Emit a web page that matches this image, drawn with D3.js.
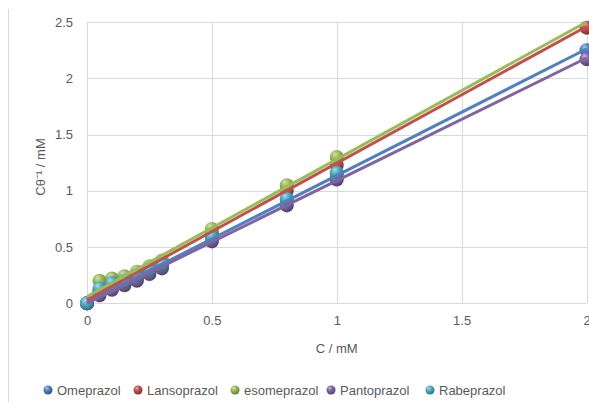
<!DOCTYPE html>
<html><head><meta charset="utf-8">
<script src="https://cdn.jsdelivr.net/npm/d3@7"></script>
<style>body{margin:0;background:#fff;overflow:hidden}svg{display:block}text{font-family:"Liberation Sans",Arial,sans-serif;fill:#595959}</style>
</head><body><svg id="c" width="589" height="402"></svg>
<script>
const seriesNames = ["Omeprazol","Lansoprazol","esomeprazol","Pantoprazol","Rabeprazol"];
const seriesColors = ["#4F81BD","#C0504D","#9BBB59","#8064A2","#4BACC6"];
const xValues = [0,0.05,0.1,0.15,0.2,0.25,0.3,0.5,0.8,1,2];
const omeprazol   = [0,0.10,0.15,0.18,0.23,0.28,0.33,0.58,0.92,1.15,2.25];
const lansoprazol = [0,0.11,0.16,0.20,0.25,0.30,0.36,0.62,1.00,1.23,2.45];
const esomeprazol = [0,0.20,0.22,0.24,0.28,0.33,0.38,0.66,1.05,1.30];
const pantoprazol = [0,0.07,0.12,0.16,0.20,0.26,0.31,0.55,0.87,1.10,2.17];
const rabeprazol  = [0,0.13,0.18,0.20,0.25,0.30,0.35,0.59,0.93,1.16];
const trendSlope     = [1.125,1.215,1.22,1.09];
const trendIntercept = [0.01,0.03,0.06,0.0];
const xTicks = [0,0.5,1,1.5,2];
const yTicks = [0,0.5,1,1.5,2,2.5];

const allValues = [omeprazol,lansoprazol,esomeprazol,pantoprazol,rabeprazol];
const svg = d3.select("#c");
const x = d3.scaleLinear().domain([0,2]).range([87,586.5]);
const y = d3.scaleLinear().domain([0,2.5]).range([303.3,22]);

// outer chart border (left edge visible)
svg.append("line").attr("x1",8.5).attr("x2",8.5).attr("y1",9).attr("y2",402).attr("stroke","#d9d9d9");

// gridlines
svg.append("g").selectAll("line").data(yTicks).join("line")
  .attr("x1",x(0)).attr("x2",x(2)).attr("y1",d=>Math.round(y(d))+0.5).attr("y2",d=>Math.round(y(d))+0.5)
  .attr("stroke","#d9d9d9");
svg.append("g").selectAll("line").data(xTicks).join("line")
  .attr("y1",y(0)).attr("y2",y(2.5)).attr("x1",d=>Math.round(x(d))+0.5).attr("x2",d=>Math.round(x(d))+0.5)
  .attr("stroke","#d9d9d9");

// axes (labels only)
const yAxis = d3.axisLeft(y).tickValues(yTicks).tickSize(0).tickPadding(0).tickFormat(d3.format("~g"));
const ga = svg.append("g").attr("transform","translate(73,0)").call(yAxis);
ga.select(".domain").remove();
ga.selectAll("text").attr("font-size",13).attr("fill","#595959").style("font-family","Liberation Sans, Arial");
const xAxis = d3.axisBottom(x).tickValues(xTicks).tickSize(0).tickPadding(0).tickFormat(d3.format("~g"));
const gx = svg.append("g").attr("transform","translate(0,316)").call(xAxis);
gx.select(".domain").remove();
gx.selectAll("text").attr("font-size",13).attr("fill","#595959").style("font-family","Liberation Sans, Arial");

// titles
svg.append("text").attr("x",x(1)).attr("y",353).attr("text-anchor","middle").attr("font-size",13).text("C / mM");
svg.append("text").attr("transform","translate(45,167) rotate(-90)").attr("text-anchor","middle").attr("font-size",13).text("Cθ⁻¹ / mM");

// gradients
const defs = svg.append("defs");
seriesColors.forEach((c,i)=>{
  const g = defs.append("radialGradient").attr("id","g"+i).attr("cx","40%").attr("cy","35%").attr("r","65%").attr("fx","35%").attr("fy","28%");
  g.append("stop").attr("offset","0%").attr("stop-color",d3.interpolateRgb(c,"#fff")(0.55));
  g.append("stop").attr("offset","45%").attr("stop-color",c);
  g.append("stop").attr("offset","100%").attr("stop-color",d3.color(c).darker(1.2));
});

// markers
allValues.forEach((vals,i)=>{
  svg.append("g").selectAll("circle").data(vals).join("circle")
    .attr("cx",(d,j)=>x(xValues[j])).attr("cy",d=>y(d)).attr("r",7)
    .attr("fill","url(#g"+i+")");
});

// trendlines
trendSlope.forEach((s,i)=>{
  const line = d3.line().x(d=>x(d)).y(d=>y(trendIntercept[i]+s*d));
  svg.append("path").datum([0,2]).attr("d",line).attr("stroke",seriesColors[i]).attr("stroke-width",3).attr("fill","none");
});

// legend
const legX = [48,138,235,331,430];
const lg = svg.append("g");
seriesNames.forEach((n,i)=>{
  lg.append("circle").attr("cx",legX[i]).attr("cy",390).attr("r",4.5).attr("fill","url(#g"+i+")");
  lg.append("text").attr("x",legX[i]+9).attr("y",394.5).attr("font-size",13).text(n);
});
</script></body></html>
